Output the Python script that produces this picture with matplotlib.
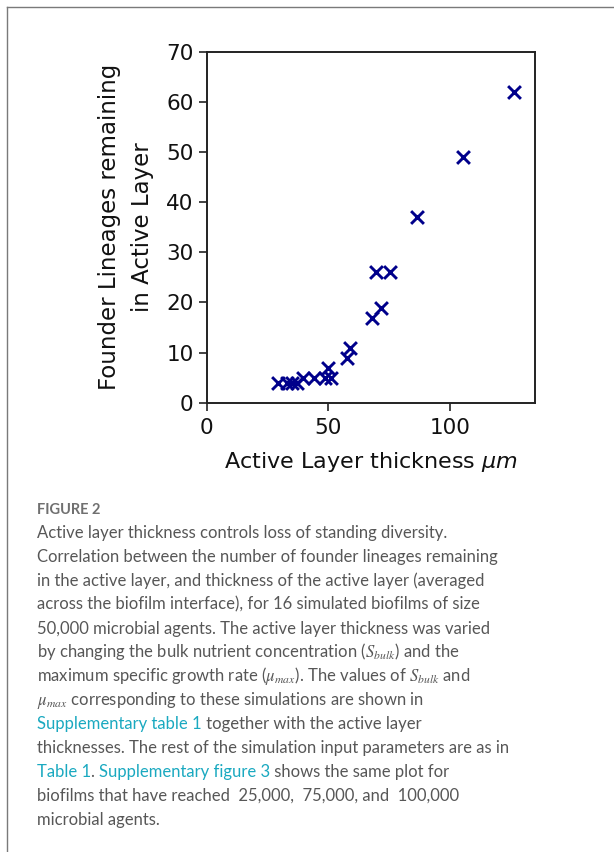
import matplotlib
matplotlib.use('Agg')
import matplotlib.pyplot as plt
from matplotlib.lines import Line2D

# active layer thickness (um) vs founder lineages left in the active layer
thickness = [29.5, 33, 35, 37, 39.5, 44, 48.5, 50, 51, 57.5, 59,
             68, 71.5, 69.5, 75.5, 86.5, 105.5, 126.5]
lineages = [4, 4, 4, 4, 5, 5, 5, 7, 5, 9, 11,
            17, 19, 26, 26, 37, 49, 62]

x_ticks = [0, 50, 100]
y_ticks = [0, 10, 20, 30, 40, 50, 60, 70]

W, H = 614, 852
fig = plt.figure(figsize=(W / 100, H / 100), dpi=100)
fig.patch.set_facecolor('white')

# ---- scatter panel ----
ax = fig.add_axes([206.7 / W, 1 - 402.7 / H, (535 - 206.7) / W, (402.7 - 52) / H])
ax.scatter(thickness, lineages, marker='x', s=85, linewidths=2.1,
           color='#00008B', zorder=3)
ax.set_xlim(0, 135)
ax.set_ylim(0, 70)
ax.set_xticks(x_ticks)
ax.set_yticks(y_ticks)
ax.tick_params(labelsize=15.5, length=6, width=1.2, color='#222222',
               labelcolor='#111111')
ax.tick_params(axis='x', pad=5)
for sp in ax.spines.values():
    sp.set_linewidth(1.4)
    sp.set_color('#222222')
ax.set_xlabel(r'Active Layer thickness $\mu m$', fontsize=16, labelpad=9,
              color='#111111')
ax.set_ylabel('Founder Lineages remaining\nin Active Layer', fontsize=16.5,
              labelpad=9, linespacing=1.55, color='#111111')

# ---- page frame ----
fig.add_artist(Line2D([7 / W, 1], [1 - 7 / H, 1 - 7 / H],
                      transform=fig.transFigure, color='#7a7a7a', lw=1))
fig.add_artist(Line2D([7 / W, 7 / W], [0, 1 - 7 / H],
                      transform=fig.transFigure, color='#7a7a7a', lw=1))

# ---- caption ----
GRAY = '#575757'
TEAL = '#1aa9c0'
CAP_FONT = 'Lato'
CAP_SIZE = 12
x0 = 37 / W

fig.text(x0, 1 - 514 / H, 'FIGURE 2', fontsize=10.5, family=CAP_FONT,
         weight='bold', color='#707070', va='baseline')

caption = [
    [('Active layer thickness controls loss of standing diversity.', GRAY)],
    [('Correlation between the number of founder lineages remaining', GRAY)],
    [('in the active layer, and thickness of the active layer (averaged', GRAY)],
    [('across the biofilm interface), for 16 simulated biofilms of size', GRAY)],
    [('50,000 microbial agents. The active layer thickness was varied', GRAY)],
    [('by changing the bulk nutrient concentration ($S_{bulk}$) and the', GRAY)],
    [('maximum specific growth rate ($\\mu_{max}$). The values of $S_{bulk}$ and', GRAY)],
    [('$\\mu_{max}$ corresponding to these simulations are shown in', GRAY)],
    [('Supplementary table 1', TEAL), (' together with the active layer', GRAY)],
    [('thicknesses. The rest of the simulation input parameters are as in', GRAY)],
    [('Table 1', TEAL), ('. ', GRAY), ('Supplementary figure 3', TEAL),
     (' shows the same plot for', GRAY)],
    [('biofilms that have reached  25,000,  75,000, and  100,000', GRAY)],
    [('microbial agents.', GRAY)],
]

base0 = 538
step = 23.9
for i, parts in enumerate(caption):
    y = 1 - (base0 + i * step) / H
    last = None
    for txt, col in parts:
        kw = dict(fontsize=CAP_SIZE, family=CAP_FONT, color=col,
                  math_fontfamily='stix')
        if last is None:
            last = fig.text(x0, y, txt, va='baseline', ha='left', **kw)
        else:
            # continue the line right after the previous segment
            last = fig.add_artist(plt.Annotation(
                txt, xy=(1, 0), xycoords=last, va='bottom', ha='left', **kw))

fig.savefig('out.png', dpi=100, facecolor='white')
